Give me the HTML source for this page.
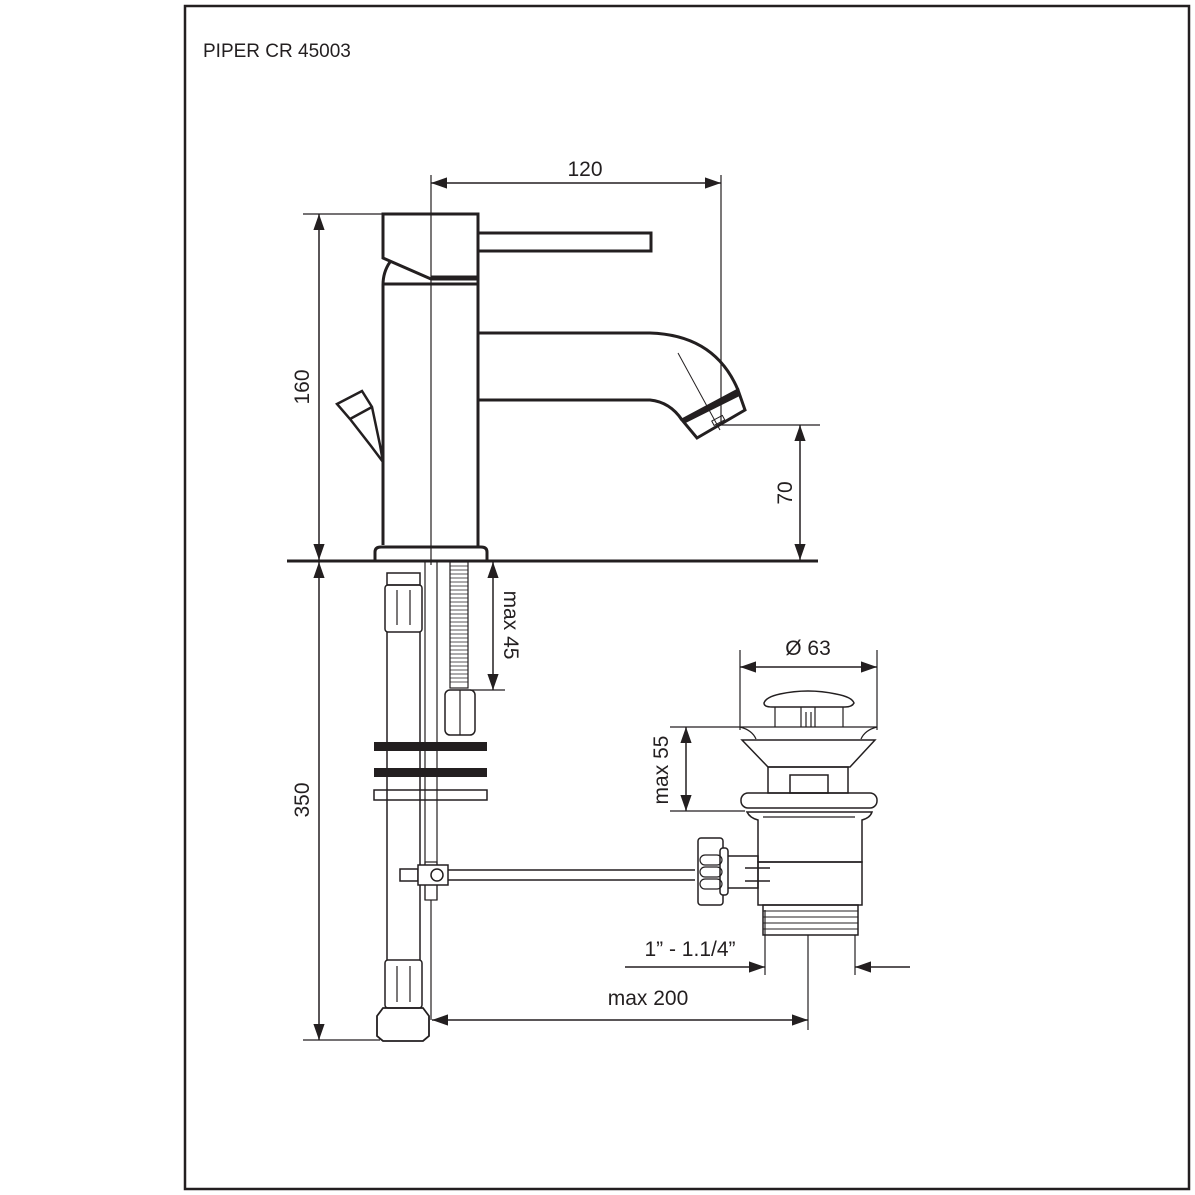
<!DOCTYPE html>
<html><head><style>
html,body{margin:0;padding:0;background:#fff;}
svg{display:block;}
text{font-family:"Liberation Sans",sans-serif;fill:#231f20;}
</style></head><body>
<svg width="1195" height="1195" viewBox="0 0 1195 1195" xmlns="http://www.w3.org/2000/svg">
<defs>
<marker id="a" viewBox="0 0 10 10" refX="10" refY="5" markerWidth="16" markerHeight="16" markerUnits="userSpaceOnUse" orient="auto-start-reverse"><path d="M0,1.5 L10,5 L0,8.5z" fill="#231f20"/></marker>
</defs>
<rect x="0" y="0" width="1195" height="1195" fill="#fff"/>
<rect x="185" y="6" width="1004" height="1183" fill="none" stroke="#231f20" stroke-width="2.5"/>
<text x="203" y="57" font-size="19">PIPER CR 45003</text>

<g fill="none" stroke="#231f20">
<!-- centre line -->
<line x1="431" y1="175" x2="431" y2="565" stroke-width="1.2"/>
<!-- head -->
<path d="M383,214 H478 V279 H431 L383,258 Z" stroke-width="3"/>
<line x1="431" y1="277" x2="478" y2="277" stroke-width="3"/>
<rect x="478" y="233" width="173" height="18" stroke-width="3"/>
<!-- body -->
<path d="M390,262 Q383,272 383,285 V545" stroke-width="3"/>
<line x1="383" y1="284" x2="478" y2="284" stroke-width="3"/>
<line x1="478" y1="279" x2="478" y2="546" stroke-width="3"/>
<path d="M375,560 V552 Q375,547 381,547 H481 Q487,547 487,552 V560" stroke-width="3"/>
<line x1="287" y1="561" x2="818" y2="561" stroke-width="3"/>
<!-- spout -->
<path d="M478,333 H650 Q715,335 738,390" stroke-width="3"/>
<path d="M478,400 H650 Q670,402 682,420" stroke-width="3"/>
<path d="M682,420 L738,390 L745,410 L697,438 Z" stroke-width="3"/>
<line x1="684" y1="421" x2="740" y2="393" stroke-width="5"/>
<line x1="678" y1="353" x2="720" y2="430" stroke-width="1"/>
<rect x="712" y="418" width="12" height="5" transform="rotate(-28 718 420)" stroke-width="1"/>
<!-- lift knob -->
<path d="M337,404 L362,391 L372,407 L380,445 L383,462 L371,446 L350,419 Z" stroke-width="2.5"/>
<line x1="350" y1="419" x2="372" y2="407" stroke-width="2.5"/>

<!-- dims -->
<line x1="721" y1="175" x2="721" y2="425" stroke-width="1.2"/>
<line x1="431" y1="183" x2="721" y2="183" stroke-width="1.5" marker-start="url(#a)" marker-end="url(#a)"/>
<line x1="303" y1="214" x2="383" y2="214" stroke-width="1.2"/>
<line x1="319" y1="214" x2="319" y2="560" stroke-width="1.5" marker-start="url(#a)" marker-end="url(#a)"/>
<line x1="319" y1="562" x2="319" y2="1040" stroke-width="1.5" marker-start="url(#a)" marker-end="url(#a)"/>
<line x1="303" y1="1040" x2="380" y2="1040" stroke-width="1.2"/>
<line x1="720" y1="425" x2="820" y2="425" stroke-width="1.2"/>
<line x1="800" y1="425" x2="800" y2="560" stroke-width="1.5" marker-start="url(#a)" marker-end="url(#a)"/>
<line x1="470" y1="690" x2="505" y2="690" stroke-width="1.2"/>
<line x1="493" y1="562" x2="493" y2="690" stroke-width="1.5" marker-start="url(#a)" marker-end="url(#a)"/>

<!-- lower pipes -->
<rect x="387" y="573" width="33" height="12" stroke-width="1.5"/>
<rect x="385" y="585" width="37" height="47" rx="3" stroke-width="1.5"/>
<line x1="397" y1="590" x2="397" y2="625" stroke-width="1.2"/><line x1="410" y1="590" x2="410" y2="625" stroke-width="1.2"/>
<line x1="387" y1="632" x2="387" y2="960" stroke-width="1.5"/>
<line x1="420" y1="632" x2="420" y2="960" stroke-width="1.5"/>
<rect x="385" y="960" width="37" height="48" rx="3" stroke-width="1.5"/>
<line x1="397" y1="966" x2="397" y2="1002" stroke-width="1.2"/><line x1="410" y1="966" x2="410" y2="1002" stroke-width="1.2"/>
<path d="M383,1008 H423 L429,1016 V1036 L423,1041 H383 L377,1036 V1016 Z" stroke-width="1.8"/>
<line x1="425" y1="562" x2="425" y2="900" stroke-width="1.2"/>
<line x1="437" y1="562" x2="437" y2="900" stroke-width="1.2"/>
<rect x="425" y="862" width="12" height="38" stroke-width="1.2"/>
<line x1="431" y1="900" x2="431" y2="1020" stroke-width="1.2"/>
<rect x="450" y="562" width="18" height="126" stroke-width="1.2"/>
<path d="M450,566 H468 M450,570 H468 M450,574 H468 M450,578 H468 M450,582 H468 M450,586 H468 M450,590 H468 M450,594 H468 M450,598 H468 M450,602 H468 M450,606 H468 M450,610 H468 M450,614 H468 M450,618 H468 M450,622 H468 M450,626 H468 M450,630 H468 M450,634 H468 M450,638 H468 M450,642 H468 M450,646 H468 M450,650 H468 M450,654 H468 M450,658 H468 M450,662 H468 M450,666 H468 M450,670 H468 M450,674 H468 M450,678 H468 M450,682 H468" stroke-width="0.8"/>
<rect x="445" y="690" width="30" height="45" rx="5" stroke-width="1.5"/>
<line x1="460" y1="690" x2="460" y2="735" stroke-width="1.2"/>
<rect x="374" y="742" width="113" height="9" fill="#231f20" stroke="none"/>
<rect x="374" y="768" width="113" height="9" fill="#231f20" stroke="none"/>
<rect x="374" y="790" width="113" height="10" stroke-width="1.5"/>
<rect x="400" y="869" width="18" height="12" stroke-width="1.5"/>
<rect x="418" y="865" width="30" height="20" stroke-width="1.5" fill="#fff"/>
<circle cx="437" cy="875" r="6" stroke-width="1.5"/>
<line x1="448" y1="870" x2="695" y2="870" stroke-width="1.5"/>
<line x1="448" y1="880" x2="695" y2="880" stroke-width="1.5"/>

<!-- drain -->
<line x1="740" y1="650" x2="740" y2="730" stroke-width="1.2"/>
<line x1="877" y1="650" x2="877" y2="730" stroke-width="1.2"/>
<line x1="740" y1="667" x2="877" y2="667" stroke-width="1.5" marker-start="url(#a)" marker-end="url(#a)"/>
<path d="M764,703 Q766,697 780,694 Q808,688 836,694 Q852,697 854,703 Q852,707 845,707 H772 Q764,707 764,703 Z" stroke-width="1.5"/>
<path d="M775,707 V727 M843,707 V727 M801,707 V727 M815,707 V727 M806,712 V727 M811,712 V727" stroke-width="1.2"/>
<line x1="670" y1="727" x2="877" y2="727" stroke-width="1.2"/>
<path d="M740,727 Q752,730 756,739 M877,727 Q865,730 861,739" stroke-width="1.2"/>
<path d="M742,740 H875 L850,767 H768 Z" stroke-width="1.5"/>
<rect x="768" y="767" width="80" height="26" stroke-width="1.5"/>
<rect x="790" y="775" width="38" height="18" stroke-width="1.5"/>
<rect x="741" y="793" width="136" height="15" rx="7" stroke-width="1.5"/>
<line x1="670" y1="811" x2="745" y2="811" stroke-width="1.2"/>
<line x1="686" y1="727" x2="686" y2="811" stroke-width="1.5" marker-start="url(#a)" marker-end="url(#a)"/>
<path d="M747,812 H872 Q870,818 862,820 V862 H758 V820 Q750,818 747,812 Z" stroke-width="1.5"/>
<line x1="763" y1="817" x2="855" y2="817" stroke-width="1.2"/>
<rect x="758" y="862" width="104" height="43" stroke-width="1.5"/>
<rect x="763" y="905" width="95" height="30" stroke-width="1.5"/>
<path d="M763,911 H858 M763,917 H858 M763,923 H858 M763,929 H858" stroke-width="0.9"/>
<rect x="725" y="856" width="33" height="32" stroke-width="1.5"/>
<path d="M745,868 H770 M745,881 H770" stroke-width="1.5"/>
<rect x="698" y="838" width="25" height="67" rx="3" stroke-width="1.5"/>
<rect x="720" y="848" width="8" height="47" rx="3" stroke-width="1.5" fill="#fff"/>
<rect x="700" y="855" width="22" height="10" rx="5" stroke-width="1.2"/>
<rect x="700" y="867" width="22" height="10" rx="5" stroke-width="1.2"/>
<rect x="700" y="879" width="22" height="10" rx="5" stroke-width="1.2"/>
<!-- bottom dims -->
<line x1="765" y1="910" x2="765" y2="975" stroke-width="1.2"/>
<line x1="855" y1="935" x2="855" y2="975" stroke-width="1.2"/>
<line x1="625" y1="967" x2="765" y2="967" stroke-width="1.5" marker-end="url(#a)"/>
<line x1="910" y1="967" x2="855" y2="967" stroke-width="1.5" marker-end="url(#a)"/>
<line x1="808" y1="935" x2="808" y2="1030" stroke-width="1.2"/>
<line x1="432" y1="1020" x2="808" y2="1020" stroke-width="1.5" marker-start="url(#a)" marker-end="url(#a)"/>
</g>

<text x="585" y="176" font-size="21" text-anchor="middle">120</text>
<text transform="translate(309,387) rotate(-90)" font-size="21" text-anchor="middle">160</text>
<text transform="translate(309,800) rotate(-90)" font-size="21" text-anchor="middle">350</text>
<text transform="translate(792,493) rotate(-90)" font-size="21" text-anchor="middle">70</text>
<text transform="translate(504,625) rotate(90)" font-size="21" text-anchor="middle">max 45</text>
<text transform="translate(668,770) rotate(-90)" font-size="21" text-anchor="middle">max 55</text>
<text x="808" y="655" font-size="21" text-anchor="middle">Ø 63</text>
<text x="690" y="956" font-size="21" text-anchor="middle">1” - 1.1/4”</text>
<text x="648" y="1005" font-size="21" text-anchor="middle">max  200</text>
</svg>
</body></html>
